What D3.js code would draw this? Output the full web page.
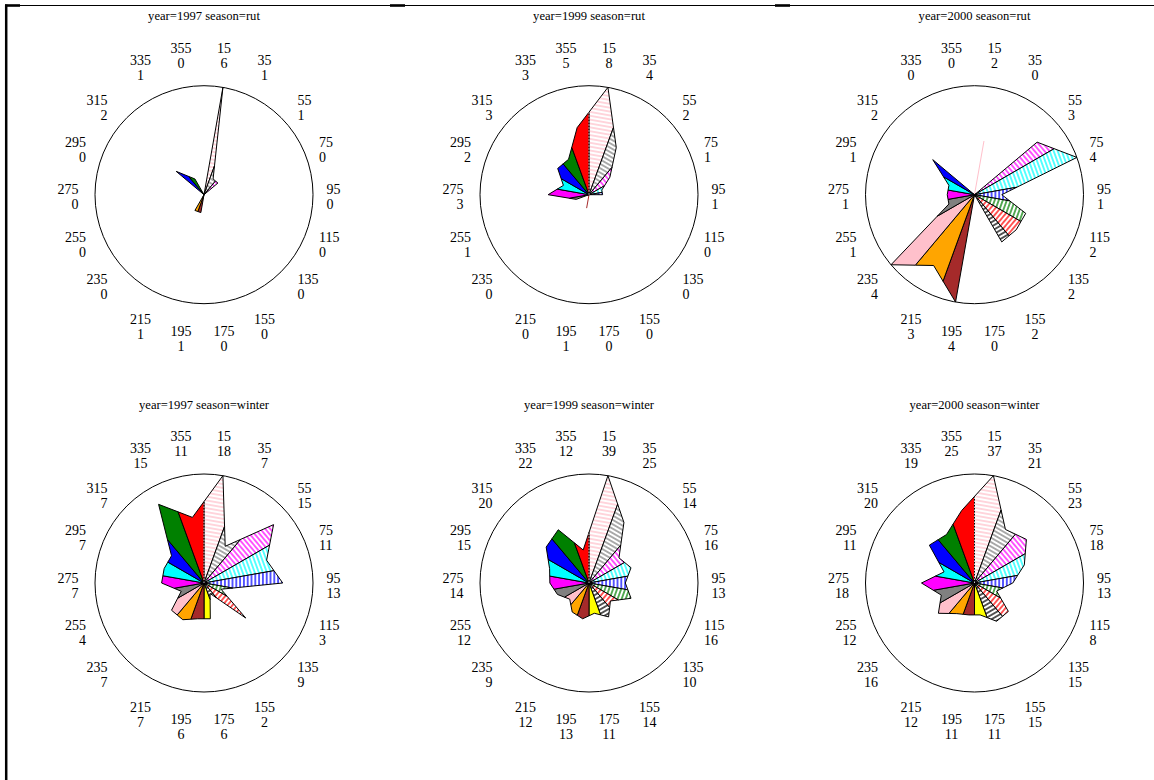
<!DOCTYPE html>
<html><head><meta charset="utf-8">
<script src="https://cdn.jsdelivr.net/npm/d3@7/dist/d3.min.js"></script>
<style>
body{margin:0;background:#fff}
svg{display:block}
text{font-family:"Liberation Serif","Times New Roman",serif;fill:#000}
</style>
</head><body>
<svg id="chart" width="1154" height="780"></svg>
<script>
// ---- data ----
const directions = [15,35,55,75,95,115,135,155,175,195,215,235,255,275,295,315,335,355];
const years = [1997, 1999, 2000];
const seasons = ["rut", "winter"];
const rut1997    = [6,1,1,0,0,0,0,0,0,1,1,0,0,0,0,2,1,0];
const rut1999    = [8,4,2,1,1,0,0,0,0,1,0,0,1,3,2,3,3,5];
const rut2000    = [2,0,3,4,1,2,2,2,0,4,3,4,1,1,1,2,0,0];
const winter1997 = [18,7,15,11,13,3,9,2,6,6,7,7,4,7,7,7,15,11];
const winter1999 = [39,25,14,16,13,16,10,14,11,13,12,9,12,14,15,20,22,12];
const winter2000 = [37,21,23,18,13,8,15,15,11,11,12,16,12,18,11,20,19,25];
const sliceColors = ["#ffc0cb","#808080","#ff00ff","#00ffff","#0000ff","#008000","#ff0000","#000000",
                     "#ffff00","#a52a2a","#ffa500","#ffc0cb","#808080","#ff00ff","#00ffff","#0000ff","#008000","#ff0000"];
const hatchedCount = 8;

const panels = [
  {year:1997, season:"rut", values:rut1997, col:0, row:0},
  {year:1999, season:"rut", values:rut1999, col:1, row:0},
  {year:2000, season:"rut", values:rut2000, col:2, row:0},
  {year:1997, season:"winter", values:winter1997, col:0, row:1},
  {year:1999, season:"winter", values:winter1999, col:1, row:1},
  {year:2000, season:"winter", values:winter2000, col:2, row:1}
];

// ---- layout ----
const colX = [204, 589, 974.5];
const rowY = [194.7, 583];
const titleY = [20, 409];
const R = 109;
const N = directions.length;
const step = 360 / N;

const svg = d3.select("#chart");
svg.append("rect").attr("width",1154).attr("height",780).attr("fill","#fff");

// border
svg.append("line").attr("x1",5).attr("x2",1154).attr("y1",5.5).attr("y2",5.5).attr("stroke","#000").attr("stroke-width",1);
svg.append("line").attr("x1",6.2).attr("x2",6.2).attr("y1",4.5).attr("y2",780).attr("stroke","#000").attr("stroke-width",2.5);
[[5,20],[390,405],[775,790]].forEach(([a,b]) => {
  svg.append("line").attr("x1",a).attr("x2",b).attr("y1",5.5).attr("y2",5.5).attr("stroke","#000").attr("stroke-width",2.6);
});

// hatch patterns: lines perpendicular to each slice's centre direction
const angleScale = d3.scaleLinear().domain([0, N]).range([0, 360]);
const defs = svg.append("defs");
for (let i = 0; i < hatchedCount; i++) {
  const mid = angleScale(i + 0.5);
  const p = defs.append("pattern").attr("id","hatch"+i)
    .attr("patternUnits","userSpaceOnUse").attr("width",8).attr("height",3.8)
    .attr("patternTransform","rotate(" + mid + ")");
  p.append("rect").attr("width",8).attr("height",3.8).attr("fill","#fff");
  p.append("line").attr("x1",0).attr("x2",8).attr("y1",1.9).attr("y2",1.9)
    .attr("stroke",sliceColors[i]).attr("stroke-width",1.3);
}

const toRad = d => d * Math.PI / 180;
const polar = (r, deg) => [r * Math.sin(toRad(deg)), -r * Math.cos(toRad(deg))];
const halfCos = Math.cos(toRad(step / 2));
// radius where the star outline between two neighbouring points crosses the slice boundary ray
const boundary = (a, b) => (a + b) > 0 ? 2 * a * b * halfCos / (a + b) : 0;

panels.forEach(pn => {
  const cx = colX[pn.col], cy = rowY[pn.row];
  const vals = pn.values;
  const rScale = d3.scaleLinear().domain([0, d3.max(vals)]).range([0, R]);

  svg.append("text").attr("x", cx).attr("y", titleY[pn.row])
    .attr("text-anchor","middle").attr("font-size","12.6px")
    .text("year=" + pn.year + " season=" + pn.season);

  const g = svg.append("g").attr("transform","translate(" + cx + "," + cy + ")");
  g.append("circle").attr("r", R).attr("fill","none").attr("stroke","#000").attr("stroke-width",1);

  vals.forEach((v, i) => {
    if (v <= 0) return;
    const a = rScale(v);
    const prev = rScale(vals[(i - 1 + N) % N]);
    const next = rScale(vals[(i + 1) % N]);
    const b0 = boundary(prev, a), b1 = boundary(a, next);
    const start = angleScale(i), midA = angleScale(i + 0.5), end = angleScale(i + 1);
    const fill = i < hatchedCount ? "url(#hatch" + i + ")" : sliceColors[i];
    if (b0 < 0.01 && b1 < 0.01) {
      const p = polar(a, midA);
      g.append("line").attr("x1",0).attr("y1",0).attr("x2",p[0]).attr("y2",p[1])
        .attr("stroke", sliceColors[i]).attr("stroke-width",1);
      return;
    }
    const pts = [[0,0], polar(b0, start), polar(a, midA), polar(b1, end)];
    g.append("path").attr("d", d3.line()(pts) + "Z")
      .attr("fill", fill).attr("stroke","#000").attr("stroke-width",1).attr("stroke-linejoin","miter");
  });

  // dotted zero-degree boundary
  const bz = boundary(rScale(vals[N - 1]), rScale(vals[0]));
  if (bz > 0.5) {
    g.append("line").attr("x1",0).attr("y1",0).attr("x2",0).attr("y2",-bz)
      .attr("stroke","#fff").attr("stroke-width",0.8).attr("stroke-dasharray","1.5,1.5");
  }

  // labels: direction and count
  vals.forEach((v, i) => {
    const th = toRad(angleScale(i + 0.5));
    const s = Math.sin(th), c = Math.cos(th);
    const anchor = s > 0.6 ? "start" : (s < -0.6 ? "end" : "middle");
    const ax = cx - 1.5 + 124 * s;
    const ay = anchor === "middle"
      ? cy + 2.3 - Math.sign(c) * (100.8 * Math.abs(c) + 42.2)
      : cy + 2.3 - 139 * c;
    const t = svg.append("text").attr("x", ax).attr("y", ay - 2.8)
      .attr("text-anchor", anchor).attr("font-size","14px");
    t.append("tspan").attr("x", ax).attr("dy", 0).text(directions[i]);
    t.append("tspan").attr("x", ax).attr("dy", 15).text(v);
  });
});
</script>
</body></html>
